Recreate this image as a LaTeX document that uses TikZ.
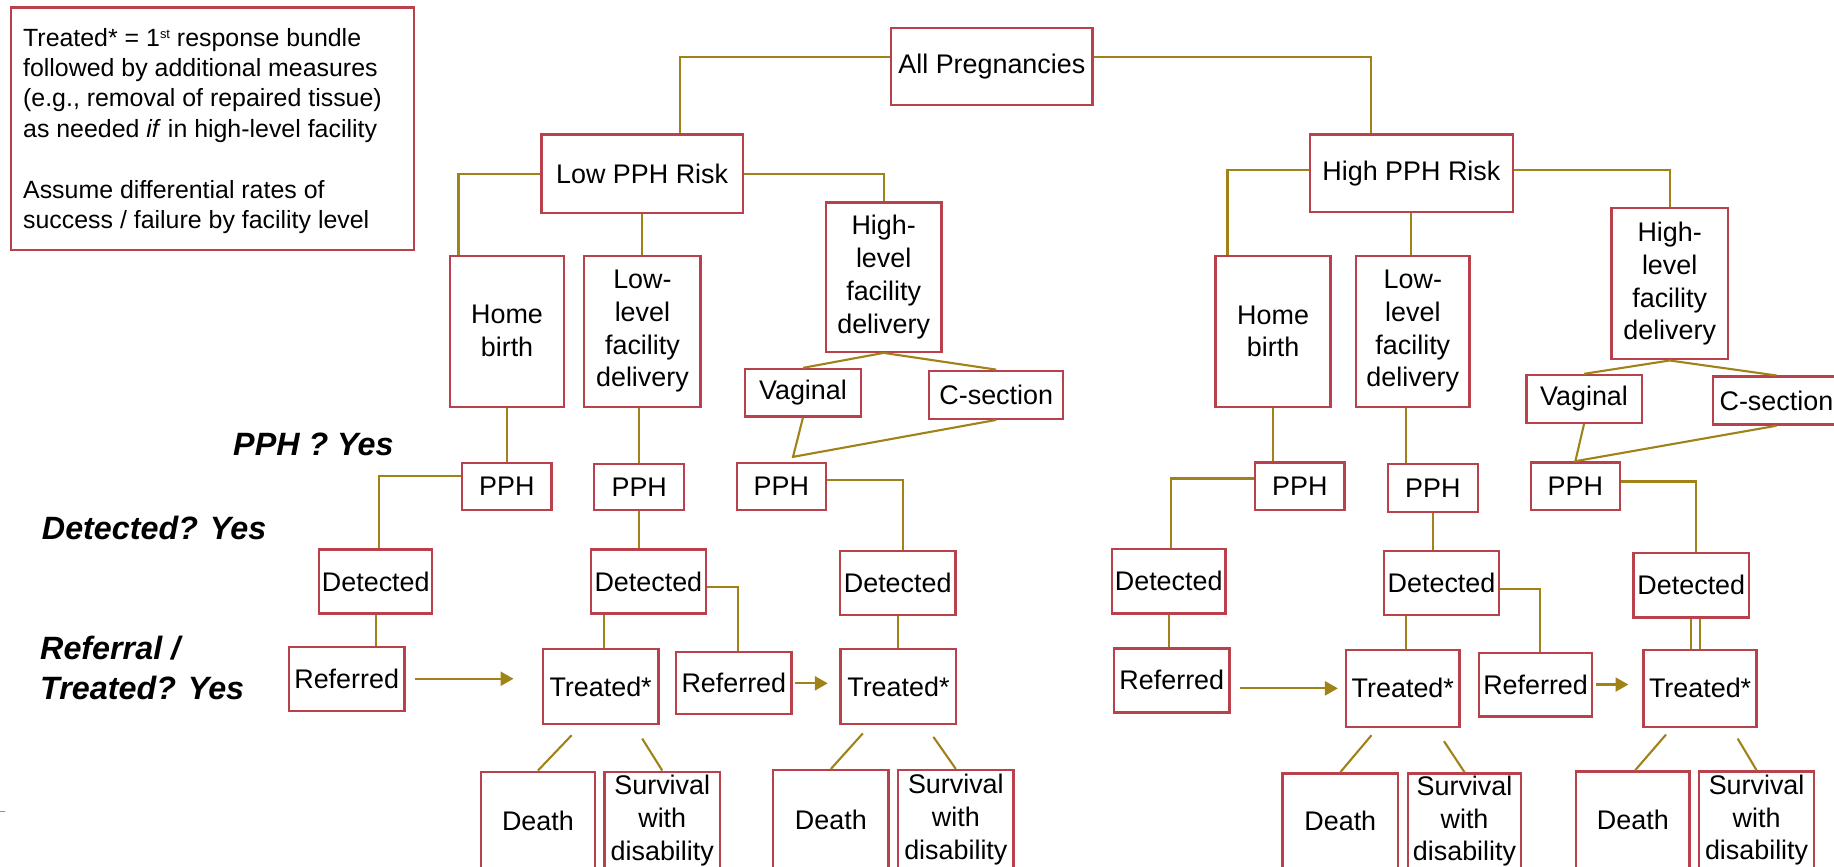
\documentclass[tikz,border=0pt]{standalone}
\usepackage{fontspec}
\setmainfont{Liberation Sans}
\usetikzlibrary{arrows.meta}
\definecolor{boxred}{RGB}{185,65,75}
\definecolor{connc}{RGB}{160,130,25}
\definecolor{tickblue}{RGB}{90,160,210}
\newcommand\bx[6]{\node[boxs,minimum width={(#4-#2)*0.5pt},minimum height={(#5-#3)*0.5pt}] (#1) at ({(#2+#4)/2},{(#3+#5)/2}) {#6};}
\begin{document}
\begin{tikzpicture}[x=0.5pt,y=-0.5pt,
  boxs/.style={draw=boxred,line width=1pt,fill=white,align=center,inner sep=0pt,font=\fontsize{11.5}{14}\selectfont},
  conn/.style={draw=connc,line width=0.9pt},
  arr/.style={conn,-{Triangle[length=5.5pt,width=6pt]}},
  lbl/.style={font=\fontsize{13.8}{17.25}\selectfont\bfseries\itshape,inner sep=0pt,anchor=west,align=left},
]
\useasboundingbox (0,0) rectangle (1568,741);
% note
\bx{note}{9.5}{6.5}{354}{214}{}
\node[anchor=north west,align=left,inner sep=0pt,font=\fontsize{10.65}{13}\selectfont] (notetext) at (19.4,23.5)
  {Treated* = 1\raisebox{3.2pt}{\fontsize{5.5}{6}\selectfont st} response bundle\\followed by additional measures\\(e.g., removal of repaired tissue)\\as needed \textit{if} in high-level facility\\[13pt]Assume differential rates of\\success / failure by facility level};
% labels
\node[lbl] (q1) at (199,379.6) {PPH ? Yes};
\node[lbl] (q2) at (35.5,451.7) {Detected? Yes};
\node[lbl] (q3) at (34,571.3) {Referral /\\Treated? Yes};
% top
\bx{all}{762}{24}{934}{90}{All Pregnancies}
\bx{lowrisk}{463}{115}{635}{182}{Low PPH Risk}
\bx{highrisk}{1120}{115}{1293.4}{181.5}{High PPH Risk}
% left tree
\bx{home}{385}{218.6}{482}{347.7}{Home\\birth}
\bx{lowfac}{499.5}{218.6}{599}{347.7}{Low-\\level\\facility\\delivery}
\bx{highfac}{706}{173}{805}{300.7}{High-\\level\\facility\\delivery}
\bx{vag}{637}{315.5}{736}{356}{Vaginal}
\bx{cs}{794.5}{317}{909}{358}{C-section}
\bx{pph1}{395}{395.6}{471.6}{436}{PPH}
\bx{pph2}{508}{396.7}{585}{436}{PPH}
\bx{pph3}{630}{395.6}{706}{436}{PPH}
\bx{det1}{273}{469.7}{369.6}{524.4}{Detected}
\bx{det2}{505}{469.7}{603.6}{524.4}{Detected}
\bx{det3}{718}{471}{817}{525.8}{Detected}
\bx{ref1}{247}{553}{345.8}{607.6}{Referred}
\bx{treat1}{464}{555}{563}{619}{Treated*}
\bx{ref2}{578}{557.7}{676.8}{610.7}{Referred}
\bx{treat2}{718.7}{555}{817.5}{619}{Treated*}
\bx{death1}{411}{659.8}{508.8}{743}{Death}
\bx{surv1}{516.8}{659.8}{615.6}{743}{Survival\\with\\disability}
\bx{death2}{661}{658.4}{759.7}{743}{Death}
\bx{surv2}{767.8}{658.4}{866.6}{743}{Survival\\with\\disability}
% right tree
\bx{homeR}{1039.3}{218.9}{1137.6}{347.7}{Home\\birth}
\bx{lowfacR}{1159.4}{218.9}{1256.4}{347.7}{Low-\\level\\facility\\delivery}
\bx{highfacR}{1377.7}{178}{1477.3}{307.2}{High-\\level\\facility\\delivery}
\bx{vagR}{1305}{320.6}{1403.6}{361.4}{Vaginal}
\bx{csR}{1464.5}{322}{1573}{363}{C-section}
\bx{pphR1}{1073}{395.3}{1149.5}{436}{PPH}
\bx{pphR2}{1186.6}{396.7}{1263.4}{437.5}{PPH}
\bx{pphR3}{1308.7}{395.3}{1385}{436}{PPH}
\bx{detR1}{950.8}{469.4}{1047.6}{524.4}{Detected}
\bx{detR2}{1183.3}{471}{1281.6}{526}{Detected}
\bx{detR3}{1396.6}{473}{1495.4}{527.8}{Detected}
\bx{refR1}{952.5}{554.3}{1051.2}{609}{Referred}
\bx{treatR1}{1150.8}{555.7}{1247.9}{621.3}{Treated*}
\bx{refR2}{1264.5}{558}{1361.2}{612.5}{Referred}
\bx{treatR2}{1405.2}{555.7}{1501.8}{621.3}{Treated*}
\bx{deathR1}{1096.5}{661.2}{1195.3}{743}{Death}
\bx{survR1}{1203.8}{661.2}{1300.4}{743}{Survival\\with\\disability}
\bx{deathR2}{1347.5}{659.5}{1444.5}{743}{Death}
\bx{survR2}{1452.6}{659.5}{1551}{743}{Survival\\with\\disability}
% connectors top
\draw[conn] ([yshift=4pt]all.west) -| ([xshift=16pt]lowrisk.north);
\draw[conn] ([yshift=4pt]all.east) -| ([xshift=-17.35pt]highrisk.north);
% left connectors
\draw[conn] (lowrisk.west) -| ([xshift=-20.75pt]home.north);
\draw[conn] (lowrisk.south) -- (lowrisk.south |- lowfac.north);
\draw[conn] (lowrisk.east) -| (highfac.north);
\draw[conn] (highfac.south) -- (vag.north);
\draw[conn] (highfac.south) -- (cs.north);
\coordinate (m1) at ([xshift=5pt,yshift=2pt]pph3.north);
\draw[conn] (vag.south) -- (m1) -- (cs.south);
\draw[conn] (home.south) -- (home.south |- pph1.north);
\draw[conn] ([yshift=4.5pt]pph1.west) -| ([xshift=1.3pt]det1.north);
\draw[conn] (pph2.north) -- (pph2.north |- lowfac.south);
\draw[conn] (pph2.south) -- (pph2.south |- det2.north);
\draw[conn] ([yshift=2.9pt]pph3.east) -| ([xshift=2.25pt]det3.north);
\draw[conn] (det1.south) -- (det1.south |- ref1.north);
\draw[arr,shorten <=4pt,shorten >=12pt] (ref1.east) -- (ref1.east -| treat1.west);
\draw[conn] ([xshift=1.6pt]treat1.north) -- ([xshift=1.6pt]treat1.north |- det2.south);
\draw[conn] ([yshift=-2.3pt]det2.east) -| ([xshift=1.6pt]ref2.north);
\draw[arr,shorten <=1pt,shorten >=5pt] (ref2.east) -- (ref2.east -| treat2.west);
\draw[conn] (det3.south) -- (det3.south |- treat2.north);
\draw[conn] ([xshift=-12.4pt,yshift=-4.3pt]treat1.south) -- (death1.north);
\draw[conn] ([xshift=17.75pt,yshift=-5.7pt]treat1.south) -- (surv1.north);
\draw[conn] ([xshift=-15.2pt,yshift=-3.5pt]treat2.south) -- (death2.north);
\draw[conn] ([xshift=14.95pt,yshift=-5pt]treat2.south) -- (surv2.north);
% right connectors
\draw[conn] ([yshift=1.6pt]highrisk.west) -| ([xshift=-19.5pt]homeR.north);
\draw[conn] (highrisk.south) -- (highrisk.south |- lowfacR.north);
\draw[conn] ([yshift=1.6pt]highrisk.east) -| (highfacR.north);
\draw[conn] (highfacR.south) -- (vagR.north);
\draw[conn] (highfacR.south) -- (csR.north);
\draw[conn] (vagR.south) -- (pphR3.north) -- (csR.south);
\draw[conn] (homeR.south) -- (homeR.south |- pphR1.north);
\draw[conn] ([yshift=3.3pt]pphR1.west) -| ([xshift=1.15pt]detR1.north);
\draw[conn] ([xshift=-2.95pt]lowfacR.south) -- ([xshift=-2.95pt]lowfacR.south |- pphR2.north);
\draw[conn] (pphR2.south) -- (pphR2.south |- detR2.north);
\draw[conn] ([yshift=2pt]pphR3.east) -| ([xshift=1.85pt]detR3.north);
\draw[conn] (detR1.south) -- (detR1.south |- refR1.north);
\draw[arr,shorten <=4pt,shorten >=3pt] (treatR1.west -| refR1.east) -- (treatR1.west);
\draw[conn] ([xshift=1.3pt]treatR1.north) -- ([xshift=1.3pt]treatR1.north |- detR2.south);
\draw[conn] ([yshift=-2.7pt]detR2.east) -| ([xshift=1.9pt]refR2.north);
\draw[arr,shorten <=1.25pt,shorten >=6pt] (refR2.east) -- (refR2.east -| treatR2.west);
\draw[conn] (detR3.south) -- (detR3.south |- treatR2.north);
\draw[conn] (treatR2.north) -- (treatR2.north |- detR3.south);
\draw[conn] ([xshift=-13.4pt,yshift=-3.15pt]treatR1.south) -- (deathR1.north);
\draw[conn] ([xshift=17.6pt,yshift=-5.7pt]treatR1.south) -- (survR1.north);
\draw[conn] ([xshift=-14.55pt,yshift=-2.85pt]treatR2.south) -- ([xshift=1pt]deathR2.north);
\draw[conn] ([xshift=16.05pt,yshift=-4.55pt]treatR2.south) -- (survR2.north);
% edge tick
\draw[tickblue,line width=0.6pt] (0,694) -- (4,694);
\end{tikzpicture}
\end{document}
